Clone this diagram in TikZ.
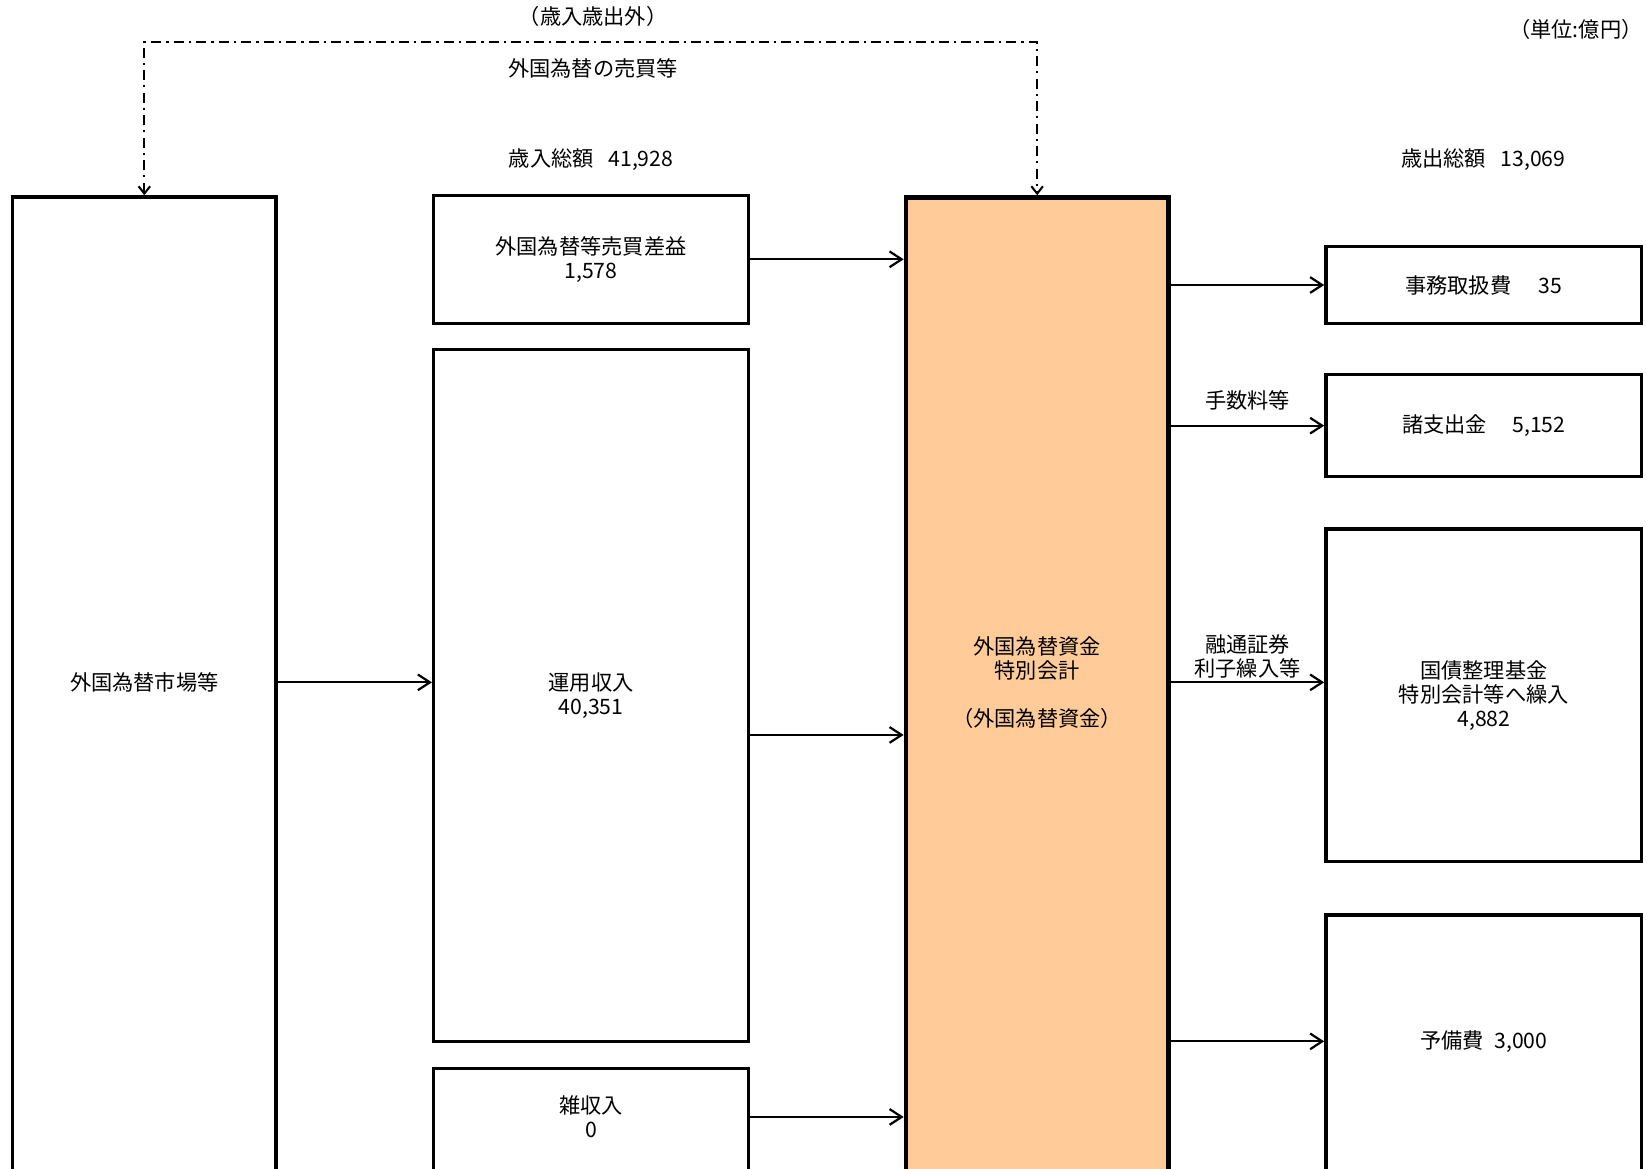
\documentclass[tikz,border=0pt]{standalone}
\usepackage{fontspec}
\setmainfont{Noto Sans CJK JP}
\usetikzlibrary{arrows.meta}
\definecolor{peach}{HTML}{FFCC99}
\tikzstyle{box} = [rectangle, minimum width=6cm, text centered, align=center, draw=black, line width=1.8pt]
\tikzstyle{bigbox} = [rectangle, minimum width=5.02cm, anchor=north, draw=black, line width=1.8pt]
\tikzstyle{fundbox} = [rectangle, minimum width=5cm, anchor=north, draw=black, line width=2.5pt, fill=peach]
\tikzstyle{txt} = [align=center, inner sep=0pt]
\tikzstyle{arrow} = [line width=1.2pt, -{Straight Barb[length=2.3mm, width=3mm]}]
\tikzstyle{dasharrow} = [line width=1.1pt, dash pattern=on 5.4pt off 2.8pt on 1.2pt off 2.8pt, {Straight Barb[length=1.4mm, width=2.2mm]}-{Straight Barb[length=1.4mm, width=2.2mm]}]

\begin{document}
\begin{tikzpicture}[x=0.02cm, y=-0.02cm, font=\fontsize{11.5}{13}\selectfont]
\clip (0,0) rectangle (1568,1113);
\node (outside) [txt] at (565,16) {（歳入歳出外）};
\node (trade) [txt] at (565,65) {外国為替の売買等};
\node (unit) [txt, anchor=east] at (1565,28) {（単位:億円）};
\node (revtotal) [txt] at (563,152) {歳入総額\hspace{0.7em}41,928};
\node (exptotal) [txt] at (1413,152) {歳出総額\hspace{0.7em}13,069};
% market
\node (market) [bigbox, minimum height=20cm] at (137.5,186) {};
\node (markettxt) [txt] at (137.5,650) {外国為替市場等};
% revenue
\node (sagaku) [box, minimum height=2.44cm] at (563,247) {外国為替等売買差益\\1,578};
\node (unyo) [box, minimum height=13.18cm] at (563,662.5) {運用収入\\40,351};
\node (zatsu) [box, anchor=north, minimum height=5cm] at (563,1016) {};
\node (zatsutxt) [txt] at (563,1064) {雑収入\\0};
% fund
\node (fund) [fundbox, minimum height=20.48cm] at (988,186) {};
\node (fundtxt) [txt] at (988,650) {外国為替資金\\特別会計\\[13pt]（外国為替資金）};
% expenditure
\node (jimu) [box, minimum width=6.02cm, minimum height=1.46cm] at (1413.5,271.5) {事務取扱費\hspace{1.3em}35};
\node (shoshi) [box, minimum width=6.02cm, minimum height=1.94cm] at (1413.5,405.5) {諸支出金\hspace{1.2em}5,152};
\node (kokusai) [box, minimum width=6.02cm, minimum height=6.34cm] at (1413.5,662.5) {国債整理基金\\特別会計等へ繰入\\4,882};
\node (yobi) [box, anchor=north, minimum width=6.02cm, minimum height=6cm] at (1413.5,870) {};
\node (yobitxt) [txt] at (1413.5,992) {予備費\hspace{0.5em}3,000};

\draw [dasharrow] (market.north) -- ++(0,-146) -| (fund.north);
\draw [arrow] (markettxt -| market.east) -- (markettxt -| unyo.west);
\draw [arrow] (sagaku.east) -- (sagaku.east -| fund.west);
\draw [arrow] (unyo.east |- fund.center) -- (fund.west);
\draw [arrow] (zatsutxt -| zatsu.east) -- (zatsutxt -| fund.west);
\draw [arrow] (jimu.west -| fund.east) -- (jimu.west);
\draw [arrow] (shoshi.west -| fund.east) -- node (feetxt) [above=8pt, txt] {手数料等} (shoshi.west);
\draw [arrow] (markettxt -| fund.east) -- node (interesttxt) [above=1.5pt, txt] {融通証券\\利子繰入等} (markettxt -| kokusai.west);
\draw [arrow] (yobitxt -| fund.east) -- (yobitxt -| yobi.west);
\end{tikzpicture}
\end{document}
